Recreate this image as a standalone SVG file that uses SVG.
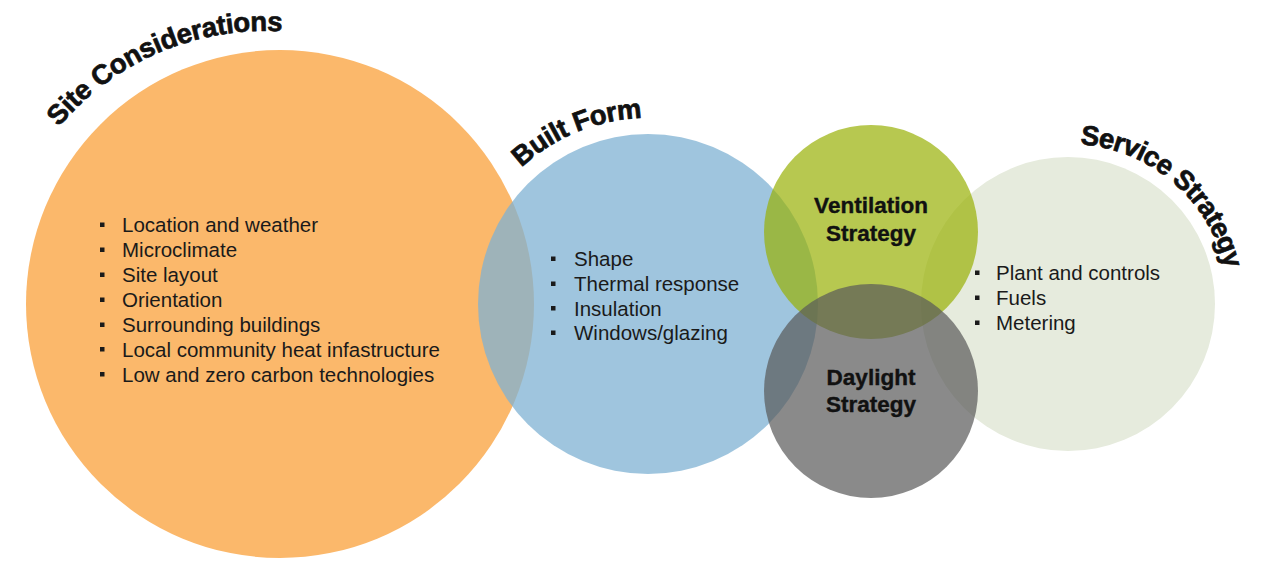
<svg xmlns="http://www.w3.org/2000/svg" width="1262" height="561" viewBox="0 0 1262 561">
<style>
.item{font-family:"Liberation Sans",Arial,sans-serif;font-size:20.5px;fill:#1a1a1a}
.bul{fill:#1a1a1a}
.title{font-family:"Liberation Sans",Arial,sans-serif;font-weight:bold;font-size:27.5px;fill:#111;stroke:#111;stroke-width:0.7px;stroke-linejoin:round}
.lab{font-family:"Liberation Sans",Arial,sans-serif;font-weight:bold;font-size:22.5px;fill:#111;stroke:#111;stroke-width:0.4px;text-anchor:middle}
</style>
<defs>
<path id="arcSite" d="M 58.9 127.1 A 269 269 0 0 1 399.5 67"/>
<path id="arcBuilt" d="M 521.6 167.5 A 186 186 0 0 1 741 142.9"/>
<path id="arcService" d="M 1080 144.3 A 160 160 0 0 1 1228 320"/>
</defs>
<rect width="1262" height="561" fill="#fff"/>
<g id="site">
<circle cx="280" cy="304" r="254" fill="#FBB86B"/>
<text class="title"><textPath href="#arcSite" textLength="252" lengthAdjust="spacing">Site Considerations</textPath></text>
<rect class="bul" x="100" y="222.5" width="4.5" height="4.5"/>
<rect class="bul" x="100" y="247.5" width="4.5" height="4.5"/>
<rect class="bul" x="100" y="272.5" width="4.5" height="4.5"/>
<rect class="bul" x="100" y="297.5" width="4.5" height="4.5"/>
<rect class="bul" x="100" y="322.5" width="4.5" height="4.5"/>
<rect class="bul" x="100" y="347" width="4.5" height="4.5"/>
<rect class="bul" x="100" y="372" width="4.5" height="4.5"/>
<text class="item" x="122" y="232">Location and weather</text>
<text class="item" x="122" y="257">Microclimate</text>
<text class="item" x="122" y="282">Site layout</text>
<text class="item" x="122" y="307">Orientation</text>
<text class="item" x="122" y="332">Surrounding buildings</text>
<text class="item" x="122" y="356.5">Local community heat infastructure</text>
<text class="item" x="122" y="381.5">Low and zero carbon technologies</text>
</g>
<g id="built">
<circle cx="648" cy="304" r="170" fill="#7FB1D3" fill-opacity="0.75"/>
<text class="title"><textPath href="#arcBuilt" textLength="133" lengthAdjust="spacing">Built Form</textPath></text>
<rect class="bul" x="551" y="256.5" width="4.5" height="4.5"/>
<rect class="bul" x="551" y="281.5" width="4.5" height="4.5"/>
<rect class="bul" x="551" y="306" width="4.5" height="4.5"/>
<rect class="bul" x="551" y="330.5" width="4.5" height="4.5"/>
<text class="item" x="574" y="266">Shape</text>
<text class="item" x="574" y="291">Thermal response</text>
<text class="item" x="574" y="315.5">Insulation</text>
<text class="item" x="574" y="340">Windows/glazing</text>
</g>
<g id="service">
<circle cx="1068" cy="304" r="147" fill="#E6EBDD"/>
<text class="title"><textPath href="#arcService" textLength="205" lengthAdjust="spacing">Service Strategy</textPath></text>
<rect class="bul" x="975" y="270.5" width="4.5" height="4.5"/>
<rect class="bul" x="975" y="295.5" width="4.5" height="4.5"/>
<rect class="bul" x="975" y="320.5" width="4.5" height="4.5"/>
<text class="item" x="996" y="280">Plant and controls</text>
<text class="item" x="996" y="305">Fuels</text>
<text class="item" x="996" y="330">Metering</text>
</g>
<g id="ventilation">
<circle cx="871" cy="232" r="107" fill="#98B005" fill-opacity="0.7"/>
<text class="lab" x="871" y="213">Ventilation</text>
<text class="lab" x="871" y="241">Strategy</text>
</g>
<g id="daylight">
<circle cx="871" cy="391" r="107" fill="#595959" fill-opacity="0.7"/>
<text class="lab" x="871" y="385">Daylight</text>
<text class="lab" x="871" y="412">Strategy</text>
</g>
<g id="connectors"></g>
</svg>
